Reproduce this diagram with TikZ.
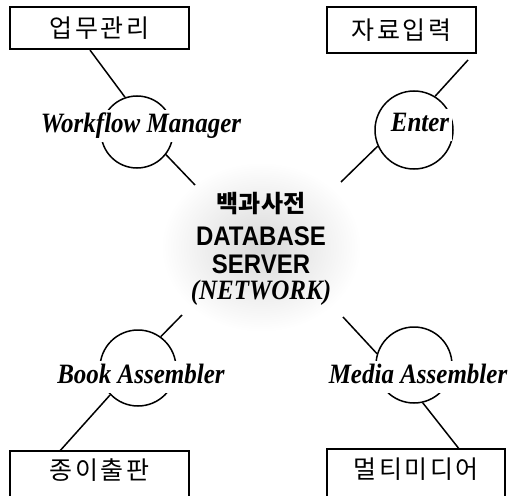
\documentclass[tikz,border=0pt]{standalone}
\usepackage{fontspec}
\usepackage{graphicx}
\setmainfont{Liberation Serif}
\setsansfont{Liberation Sans}
\newfontfamily\kr[LetterSpace=10]{Noto Sans CJK KR}
\newfontfamily\krb{Noto Sans CJK KR}
\usetikzlibrary{shapes.geometric}
\newcommand{\tallx}[1]{\scalebox{1}[1.12]{#1}}
\begin{document}
\begin{tikzpicture}[x=1pt,y=-1pt,
  krbox/.style={draw, line width=2.2pt, inner sep=0pt, font=\kr\fontsize{25}{25}\selectfont},
  krtext/.style={inner sep=0pt, font=\kr\fontsize{25}{25}\selectfont},
  boxline/.style={line width=2.2pt},
  ring/.style={circle, draw, line width=1.5pt, inner sep=0pt},
  lbl/.style={fill=white, inner xsep=3pt, inner ysep=4pt, text height=18pt, text depth=6pt, anchor=base, font=\fontsize{25}{25}\selectfont\bfseries\itshape},
  conn/.style={line width=1.5pt},
  srvtxt/.style={inner sep=0pt, anchor=base}]
\useasboundingbox (0,0) rectangle (516,495);
\clip (0,0) rectangle (516,495);

% central server
\node[ellipse, shade, inner color=gray!30, outer color=white, minimum width=200pt, minimum height=170pt] (srv) at (261,247) {};
\node[srvtxt, font=\krb\bfseries\fontsize{24}{24}\selectfont] (s1) at (261,212) {백과사전};
\node[srvtxt, font=\sffamily\bfseries\fontsize{24}{24}\selectfont] (s2) at (261,245) {\tallx{DATABASE}};
\node[srvtxt, font=\sffamily\bfseries\fontsize{24}{24}\selectfont] (s3) at (261,273) {\tallx{SERVER}};
\node[srvtxt, font=\rmfamily\bfseries\itshape\fontsize{25}{25}\selectfont] (s4) at (261,299) {\tallx{(NETWORK)}};

% top boxes
\node[krbox, minimum width=179pt, minimum height=42pt] (b1) at (99.5,28) {업무관리};
\node[krbox, minimum width=149pt, minimum height=46pt] (b2) at (401.5,30) {자료입력};

% bottom boxes (cut by the lower edge)
\node[krtext, minimum width=179pt, minimum height=38pt] (b3) at (99.5,470) {종이출판};
\draw[boxline] ([yshift=-30pt]b3.south west) -- (b3.north west) -- (b3.north east) -- ([yshift=-30pt]b3.south east);
\node[krtext, minimum width=178pt, minimum height=40pt] (b4) at (416,469) {멀티미디어};
\draw[boxline] ([yshift=-30pt]b4.south west) -- (b4.north west) -- (b4.north east) -- ([yshift=-30pt]b4.south east);

% circles
\node[ring, minimum size=72pt] (c1) at (137,132) {};
\node[ring, minimum size=78pt] (c2) at (414,130) {};
\node[ring, minimum size=76pt] (c3) at (138,368) {};
\node[ring, minimum size=76pt] (c4) at (414,365) {};

% labels
\node[lbl] (l1) at (141,132) {\tallx{Workflow Manager}};
\node[lbl] (l2) at (420,131) {\tallx{Enter}\hspace{7pt}};
\node[lbl] (l3) at (141,383) {\tallx{Book Assembler}};
\node[lbl] (l4) at (418,383) {\tallx{Media Assembler}};

% free ends near the server
\coordinate (e1) at (195,185);
\coordinate (e2) at (341,182);
\coordinate (e3) at (182,315);
\coordinate (e4) at (343,317);
\coordinate (t2) at (468,60);

% connectors
\draw[conn] (b1.south -| 90,0) -- (c1.109);
\draw[conn] (c1.-38) -- (e1);
\draw[conn] (t2) -- (c2.58);
\draw[conn] (c2.204) -- (e2);
\draw[conn] (e3) -- (c3.54);
\draw[conn] (c3.224) -- (b3.north -| 60,0);
\draw[conn] (e4) -- (c4.163);
\draw[conn] (c4.-77) -- (b4.north -| 459,0);
\end{tikzpicture}
\end{document}
